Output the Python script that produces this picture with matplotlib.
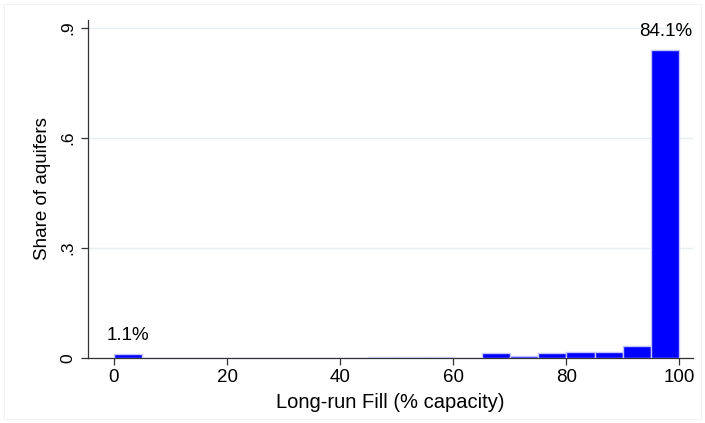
import numpy as np
import matplotlib.pyplot as plt
from matplotlib.patches import Rectangle

plt.rcParams['font.family'] = ['Liberation Sans', 'DejaVu Sans']

# histogram of long-run fill, 5-point bins
bin_left = np.arange(0, 100, 5)
share = [0.011, 0.0, 0.0, 0.0, 0.0, 0.0, 0.0, 0.0, 0.0, 0.002,
         0.003, 0.002, 0.0005, 0.013, 0.005, 0.013, 0.015, 0.015, 0.032, 0.841]
bin_width = 5

y_ticks = [0, 0.3, 0.6, 0.9]
y_tick_labels = ['0', '.3', '.6', '.9']
x_ticks = [0, 20, 40, 60, 80, 100]
labelled_bins = [0, 19]

fig = plt.figure(figsize=(7.05, 4.23), dpi=100)
ax = fig.add_axes([0.1248, 0.1537, 0.983 - 0.1248, 0.9527 - 0.1537])

# faint graph-region frame
fig.patches.append(Rectangle((4 / 705, 4 / 423), 697 / 705, 415 / 423,
                             transform=fig.transFigure, fill=False,
                             edgecolor='#f2f2f2', linewidth=0.8))

ax.bar(bin_left, share, width=bin_width, align='edge',
       color='#0000ff', edgecolor='#c4c4ff', linewidth=1.0, zorder=3)

for i in labelled_bins:
    ax.annotate(f'{share[i] * 100:.1f}%', (bin_left[i] + bin_width / 2, share[i]),
                xytext=(0, 7), textcoords='offset points',
                ha='center', va='bottom', fontsize=13.5)

ax.set_xlim(-4.6, 102.4)
ax.set_ylim(0, 0.922)
ax.set_yticks(y_ticks)
ax.set_yticklabels(y_tick_labels, rotation=90, va='center')
ax.set_xticks(x_ticks)
ax.tick_params(axis='both', length=5, width=0.9, color='#333333')
ax.tick_params(axis='x', labelsize=13.5, pad=3)
ax.tick_params(axis='y', labelsize=12.5, pad=4)

ax.grid(axis='y', color='#e6eff0', linewidth=1.0, zorder=0)
for s in ['top', 'right']:
    ax.spines[s].set_visible(False)
for s in ['left', 'bottom']:
    ax.spines[s].set_color('#333333')
    ax.spines[s].set_linewidth(0.9)

ax.set_xlabel('Long-run Fill (% capacity)', fontsize=14.5, labelpad=5)
ax.set_ylabel('Share of aquifers', fontsize=13.5, labelpad=7)

fig.savefig('out.png', dpi=100)
